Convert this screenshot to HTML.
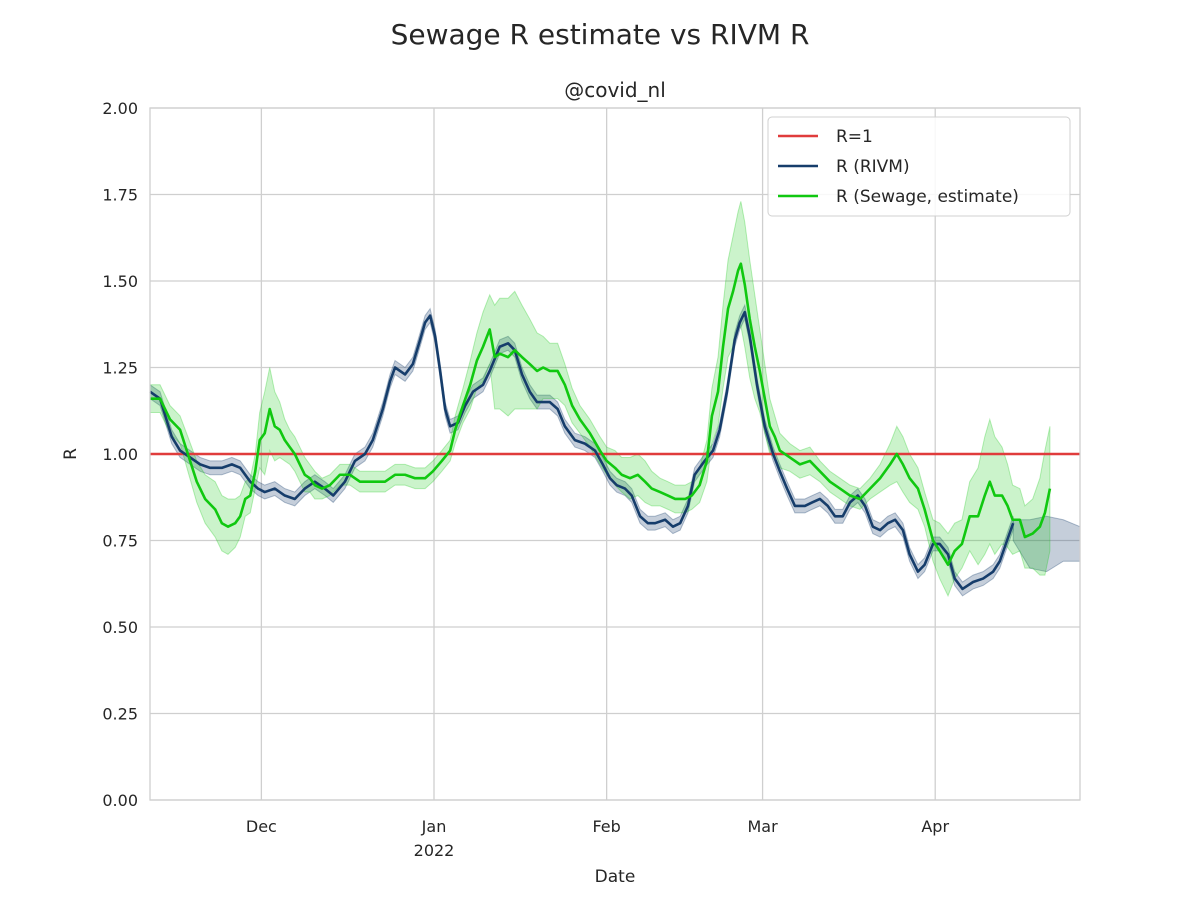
<!DOCTYPE html>
<html><head><meta charset="utf-8"><style>
body{margin:0;background:#fff;}
svg text{font-family:"DejaVu Sans","Liberation Sans",sans-serif;fill:#262626;}
</style></head><body>
<svg id="chart" width="1200" height="900" xmlns="http://www.w3.org/2000/svg">
<text x="600" y="44" font-size="28" text-anchor="middle">Sewage R estimate vs RIVM R</text>
<text x="615" y="97" font-size="20" text-anchor="middle">@covid_nl</text>
<g id="grid"></g><g id="marks"></g><g id="axes"></g>
<text x="615" y="882" font-size="17" text-anchor="middle">Date</text>
<text x="76" y="454" font-size="17" text-anchor="middle" transform="rotate(-90 76 454)">R</text>
<g>
<rect x="768" y="117" width="302" height="99" rx="4" fill="#fff" fill-opacity="0.85" stroke="#d0d0d0"/>
<g><line x1="778" y1="136" x2="818" y2="136" stroke="#e03c3c" stroke-width="2.5"/><text x="836" y="142" font-size="17">R=1</text></g>
<g><line x1="778" y1="166" x2="818" y2="166" stroke="#163d6b" stroke-width="2.5"/><text x="836" y="172" font-size="17">R (RIVM)</text></g>
<g><line x1="778" y1="196" x2="818" y2="196" stroke="#10c810" stroke-width="2.5"/><text x="836" y="202" font-size="17">R (Sewage, estimate)</text></g>
</g>
</svg>
<script>
const yTicks=[0,0.25,0.5,0.75,1.0,1.25,1.5,1.75,2.0];
const xTickDays=[20,51,82,110,141];
const xTickLabels=["Dec","Jan","Feb","Mar","Apr"];
const rivmDays=[0,1.8,3.9,5.4,7.2,9.0,10.8,12.9,14.7,16.2,18.0,19.4,20.6,22.4,24.2,26.0,27.8,29.6,31.4,32.9,35.0,36.8,38.6,40.0,41.8,43.1,44.0,45.8,47.2,48.5,49.4,50.3,51.2,52.1,53.0,53.9,55.3,56.6,58.0,59.8,61.0,62.8,64.3,65.5,66.8,68.2,69.5,71.8,73.2,74.5,76.3,78.1,79.9,81.3,82.6,83.8,85.3,86.5,88.0,89.4,90.7,92.5,93.9,95.2,96.6,97.8,99.6,101.1,102.3,103.6,105.0,105.9,106.8,107.7,109.0,110.4,111.9,113.1,114.4,115.8,117.6,118.9,120.3,121.7,123.0,124.4,125.7,127.1,128.4,129.8,131.1,132.5,133.8,135.2,136.4,137.9,139.1,140.6,141.8,143.3,144.5,145.9,147.8,149.6,151.4,152.6,153.9,155.0];
const rivmVals=[1.18,1.16,1.05,1.01,0.99,0.97,0.96,0.96,0.97,0.96,0.92,0.90,0.89,0.90,0.88,0.87,0.90,0.92,0.90,0.88,0.92,0.98,1.00,1.04,1.13,1.21,1.25,1.23,1.26,1.33,1.38,1.40,1.34,1.24,1.13,1.08,1.09,1.14,1.18,1.20,1.24,1.31,1.32,1.30,1.23,1.18,1.15,1.15,1.13,1.08,1.04,1.03,1.01,0.97,0.93,0.91,0.90,0.88,0.82,0.80,0.80,0.81,0.79,0.80,0.85,0.94,0.98,1.01,1.07,1.18,1.33,1.38,1.41,1.34,1.20,1.08,1.00,0.95,0.90,0.85,0.85,0.86,0.87,0.85,0.82,0.82,0.86,0.88,0.85,0.79,0.78,0.80,0.81,0.78,0.71,0.66,0.68,0.74,0.74,0.71,0.64,0.61,0.63,0.64,0.66,0.69,0.75,0.80];
const rivmTailDays=[155,158,161,164,167];
const rivmTailVals=[0.78,0.74,0.74,0.75,0.74];
const rivmTailSpread=[0.03,0.07,0.08,0.06,0.05];
const sewDays=[0,1.8,3.6,5.4,6.8,8.4,9.9,11.7,12.9,14,15.3,16.2,17.1,18,18.9,19.7,20.6,21.5,22.4,23.3,24.2,25.1,26,26.9,27.8,28.7,29.6,30.9,32.3,34.1,35.9,37.7,39.5,42.2,44,45.8,47.6,49.4,50.8,52.4,53.9,54.8,56.2,57.5,58.7,59.8,61,61.9,62.8,64.3,65.5,66.8,68.2,69.5,70.6,71.8,73.2,74.5,75.8,77.2,79,80.8,82,83.5,84.7,86.2,87.6,88.9,90.1,91.6,93,94.3,96.1,97.3,98.7,100,100.9,102,102.9,103.8,104.7,105.6,106.1,106.8,107.7,108.6,109.5,110.4,111.3,112.2,113.1,114.9,116.7,118.5,120.3,122.1,123.9,125.7,127.5,129.3,131.1,132.9,134.1,135.2,136.4,137.9,139.1,140.6,141.8,143.3,144.5,145.8,147.2,148.7,149.9,150.8,151.7,153,154,154.9,156.2,157.1,158.5,159.8,160.7,161.6];
const sewVals=[1.16,1.16,1.10,1.07,1.00,0.92,0.87,0.84,0.80,0.79,0.80,0.82,0.87,0.88,0.95,1.04,1.06,1.13,1.08,1.07,1.04,1.02,1.00,0.97,0.94,0.93,0.91,0.90,0.91,0.94,0.94,0.92,0.92,0.92,0.94,0.94,0.93,0.93,0.95,0.98,1.01,1.07,1.14,1.20,1.27,1.31,1.36,1.28,1.29,1.28,1.30,1.28,1.26,1.24,1.25,1.24,1.24,1.20,1.14,1.10,1.06,1.01,0.98,0.96,0.94,0.93,0.94,0.92,0.90,0.89,0.88,0.87,0.87,0.88,0.91,0.98,1.11,1.18,1.31,1.42,1.47,1.53,1.55,1.49,1.39,1.31,1.24,1.16,1.08,1.05,1.01,0.99,0.97,0.98,0.95,0.92,0.90,0.88,0.87,0.90,0.93,0.97,1.00,0.97,0.93,0.90,0.84,0.75,0.72,0.68,0.72,0.74,0.82,0.82,0.88,0.92,0.88,0.88,0.85,0.81,0.81,0.76,0.77,0.79,0.83,0.90];
const sewSpread=[0.04,0.04,0.04,0.04,0.05,0.06,0.07,0.08,0.08,0.08,0.07,0.06,0.05,0.05,0.05,0.08,0.12,0.12,0.1,0.08,0.06,0.05,0.05,0.05,0.05,0.04,0.04,0.03,0.03,0.03,0.03,0.03,0.03,0.03,0.03,0.03,0.03,0.03,0.03,0.03,0.03,0.04,0.05,0.07,0.08,0.10,0.10,0.15,0.16,0.17,0.17,0.15,0.13,0.11,0.09,0.08,0.08,0.06,0.05,0.04,0.04,0.04,0.04,0.05,0.05,0.06,0.06,0.06,0.05,0.04,0.04,0.04,0.04,0.04,0.05,0.06,0.08,0.10,0.12,0.14,0.16,0.17,0.18,0.18,0.17,0.15,0.12,0.10,0.08,0.06,0.05,0.04,0.04,0.04,0.03,0.03,0.03,0.03,0.03,0.03,0.04,0.06,0.08,0.08,0.07,0.06,0.05,0.06,0.08,0.09,0.08,0.07,0.10,0.14,0.17,0.18,0.17,0.14,0.12,0.10,0.09,0.09,0.10,0.14,0.18,0.18,0.13,0.06];
const X0=150,X1=1080,Y0=800,Y1=108,DMAX=167;
const sx=d=>X0+d*(X1-X0)/DMAX;
const sy=v=>Y0-(v/2)*(Y0-Y1);
const NS="http://www.w3.org/2000/svg";
function mk(tag,attrs,parent){const e=document.createElementNS(NS,tag);for(const k in attrs)e.setAttribute(k,attrs[k]);parent.appendChild(e);return e;}
const grid=document.getElementById('grid'),marks=document.getElementById('marks'),axes=document.getElementById('axes');
yTicks.forEach(v=>{
  const l=mk('line',{x1:X0,x2:X1,y1:sy(v),y2:sy(v),stroke:'#cfcfcf','stroke-width':1.3},grid);
  
  
  const t=mk('text',{x:X0-12,y:sy(v)+6,'font-size':16,'text-anchor':'end'},axes);
  t.textContent=v.toFixed(2);
  
  
});
xTickDays.forEach((d,i)=>{
  const l=mk('line',{x1:sx(d),x2:sx(d),y1:Y1,y2:Y0,stroke:'#cfcfcf','stroke-width':1.3},grid);
  
  
  const t=mk('text',{x:sx(d),y:832,'font-size':16,'text-anchor':'middle'},axes);
  t.textContent=xTickLabels[i];
  
  
});
const yr=mk('text',{x:sx(51),y:856,'font-size':16,'text-anchor':'middle'},axes);
yr.textContent='2022';


const fr=mk('rect',{x:X0,y:Y1,width:X1-X0,height:Y0-Y1,fill:'none',stroke:'#cfcfcf','stroke-width':1.3},axes);


function band(days,vals,spr,def,fill,op,name){
  let up=days.map((d,i)=>sx(d)+','+sy(vals[i]+(spr[i]??def)));
  let lo=days.map((d,i)=>sx(d)+','+sy(vals[i]-(spr[i]??def))).reverse();
  const p=mk('polygon',{points:up.concat(lo).join(' '),fill:fill,'fill-opacity':op,stroke:fill,'stroke-opacity':op*1.3,'stroke-width':1},marks);
  
  
}
function line(days,vals,col,name){
  const p=mk('polyline',{points:days.map((d,i)=>sx(d)+','+sy(vals[i])).join(' '),fill:'none',stroke:col,'stroke-width':2.6,'stroke-linejoin':'round'},marks);
  
  
}
band(rivmDays,rivmVals,[],0.02,'#163d6b',0.25,'rivm-band');
band(rivmTailDays,rivmTailVals,rivmTailSpread,0.05,'#163d6b',0.25,'rivm-tail-band');
band(sewDays,sewVals,sewSpread,0.04,'#10c810',0.22,'sewage-band');
const r1=mk('line',{x1:X0,x2:X1,y1:sy(1),y2:sy(1),stroke:'#e03c3c','stroke-width':2.5},marks);


line(rivmDays,rivmVals,'#163d6b','rivm-line');
line(sewDays,sewVals,'#10c810','sewage-line');
</script>
</body></html>
